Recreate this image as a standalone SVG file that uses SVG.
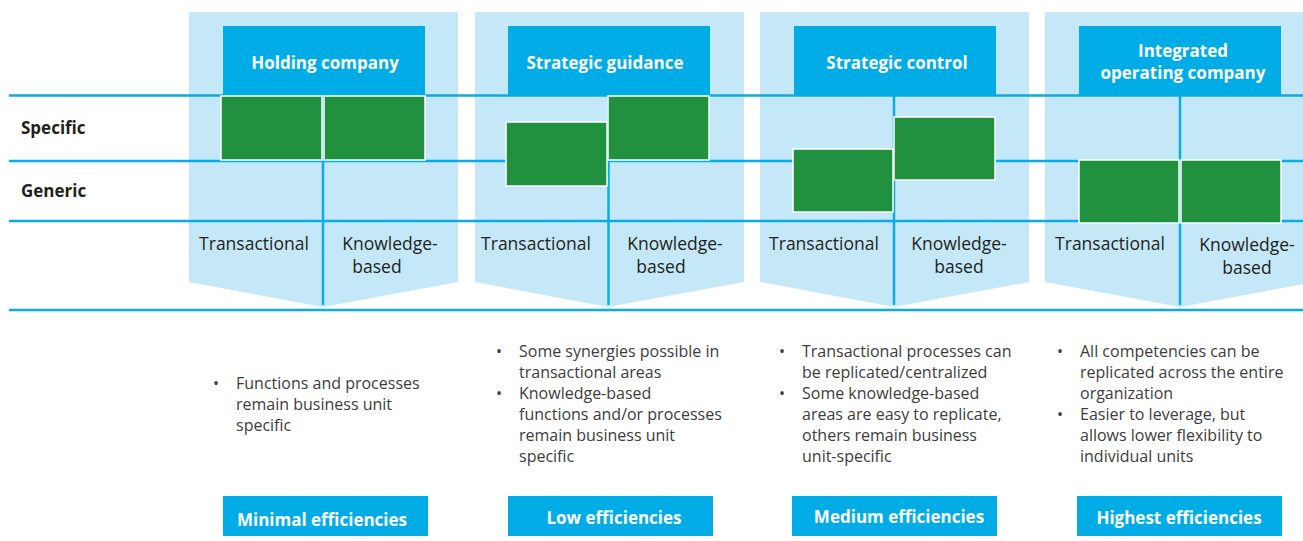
<svg xmlns="http://www.w3.org/2000/svg" width="1303" height="541" viewBox="0 0 1303 541">
<style>
.bg{fill:#c5e8f8}
.ln{stroke:#0aace6;stroke-width:2.5;fill:none}
.hdr{fill:#00ace6}
.grn{fill:#21903f;stroke:#ffffff;stroke-width:1.5}
.ht{font-family:"Open Sans","Liberation Sans",sans-serif;font-weight:bold;font-size:17px;fill:#ffffff;text-anchor:middle}
.rl{font-family:"Open Sans","Liberation Sans",sans-serif;font-weight:bold;font-size:17px;fill:#231f20}
.cl{font-family:"Open Sans","Liberation Sans",sans-serif;font-size:17.5px;fill:#231f20;text-anchor:middle}
.bt{font-family:"Open Sans","Liberation Sans",sans-serif;font-size:16px;fill:#3c3c3c}
</style>
<rect width="1303" height="541" fill="#ffffff"/>
<g id="col-backgrounds">
<polygon class="bg" points="189,12 458,12 458,282 323,307 189,282"/>
<polygon class="bg" points="475,12 744,12 744,282 608,307 475,282"/>
<polygon class="bg" points="760,12 1029,12 1029,282 894,307 760,282"/>
<polygon class="bg" points="1045,12 1315,12 1315,282 1180,307 1045,282"/>
</g>
<g id="connectors">
<line class="ln" x1="9" y1="95.5" x2="1303" y2="95.5"/>
<line class="ln" x1="9" y1="161" x2="1303" y2="161"/>
<line class="ln" x1="9" y1="221" x2="1303" y2="221"/>
<line class="ln" x1="9" y1="310" x2="1303" y2="310"/>
<line class="ln" x1="323" y1="95" x2="323" y2="305"/>
<line class="ln" x1="608.5" y1="95" x2="608.5" y2="305"/>
<line class="ln" x1="894" y1="95" x2="894" y2="305"/>
<line class="ln" x1="1180" y1="95" x2="1180" y2="305"/>
</g>
<g id="row-labels">
<text class="rl" x="21" y="134">Specific</text>
<text class="rl" x="21" y="197">Generic</text>
</g>
<g id="holding-company">
<rect class="hdr" x="223" y="26" width="202" height="69"/>
<text class="ht" x="325" y="69">Holding company</text>
<rect class="grn" x="221" y="96" width="101" height="64"/>
<rect class="grn" x="324" y="96" width="101" height="64"/>
<text class="cl" x="254" y="250">Transactional</text>
<text class="cl" x="390" y="250">Knowledge-</text>
<text class="cl" x="377" y="273">based</text>
</g>
<g id="strategic-guidance">
<rect class="hdr" x="508" y="26" width="202" height="69"/>
<text class="ht" x="605" y="69">Strategic guidance</text>
<rect class="grn" x="506" y="122" width="101" height="64"/>
<rect class="grn" x="608" y="96" width="101" height="64"/>
<text class="cl" x="536" y="250">Transactional</text>
<text class="cl" x="675" y="250">Knowledge-</text>
<text class="cl" x="661" y="273">based</text>
</g>
<g id="strategic-control">
<rect class="hdr" x="794" y="26" width="202" height="69"/>
<text class="ht" x="897" y="69">Strategic control</text>
<rect class="grn" x="793" y="149" width="100" height="63"/>
<rect class="grn" x="894" y="117" width="101" height="63"/>
<text class="cl" x="824" y="250">Transactional</text>
<text class="cl" x="959" y="250">Knowledge-</text>
<text class="cl" x="959" y="273">based</text>
</g>
<g id="integrated-operating-company">
<rect class="hdr" x="1079" y="26" width="202" height="69"/>
<text class="ht" x="1183" y="57">Integrated</text>
<text class="ht" x="1183" y="79">operating company</text>
<rect class="grn" x="1079" y="160" width="100" height="63"/>
<rect class="grn" x="1181" y="160" width="100" height="63"/>
<text class="cl" x="1110" y="250">Transactional</text>
<text class="cl" x="1247" y="251">Knowledge-</text>
<text class="cl" x="1247" y="274">based</text>
</g>
<g id="bullets-1">
<text class="bt" x="213" y="389">•</text>
<text class="bt" x="236" y="389">Functions and processes</text>
<text class="bt" x="236" y="410">remain business unit</text>
<text class="bt" x="236" y="431">specific</text>
</g>
<g id="bullets-2">
<text class="bt" x="496" y="357">•</text>
<text class="bt" x="519" y="357">Some synergies possible in</text>
<text class="bt" x="519" y="378">transactional areas</text>
<text class="bt" x="496" y="399">•</text>
<text class="bt" x="519" y="399">Knowledge-based</text>
<text class="bt" x="519" y="420">functions and/or processes</text>
<text class="bt" x="519" y="441">remain business unit</text>
<text class="bt" x="519" y="462">specific</text>
</g>
<g id="bullets-3">
<text class="bt" x="779" y="357">•</text>
<text class="bt" x="802" y="357">Transactional processes can</text>
<text class="bt" x="802" y="378">be replicated/centralized</text>
<text class="bt" x="779" y="399">•</text>
<text class="bt" x="802" y="399">Some knowledge-based</text>
<text class="bt" x="802" y="420">areas are easy to replicate,</text>
<text class="bt" x="802" y="441">others remain business</text>
<text class="bt" x="802" y="462">unit-specific</text>
</g>
<g id="bullets-4">
<text class="bt" x="1057" y="357">•</text>
<text class="bt" x="1080" y="357">All competencies can be</text>
<text class="bt" x="1080" y="378">replicated across the entire</text>
<text class="bt" x="1080" y="399">organization</text>
<text class="bt" x="1057" y="420">•</text>
<text class="bt" x="1080" y="420">Easier to leverage, but</text>
<text class="bt" x="1080" y="441">allows lower flexibility to</text>
<text class="bt" x="1080" y="462">individual units</text>
</g>
<g id="eff-minimal">
<rect class="hdr" x="223" y="496" width="205" height="40"/>
<text class="ht" x="322" y="526">Minimal efficiencies</text>
</g>
<g id="eff-low">
<rect class="hdr" x="508" y="496" width="205" height="40"/>
<text class="ht" x="614" y="524">Low efficiencies</text>
</g>
<g id="eff-medium">
<rect class="hdr" x="792" y="496" width="205" height="40"/>
<text class="ht" x="899" y="523">Medium efficiencies</text>
</g>
<g id="eff-highest">
<rect class="hdr" x="1077" y="496" width="205" height="40"/>
<text class="ht" x="1179" y="524">Highest efficiencies</text>
</g>
</svg>
